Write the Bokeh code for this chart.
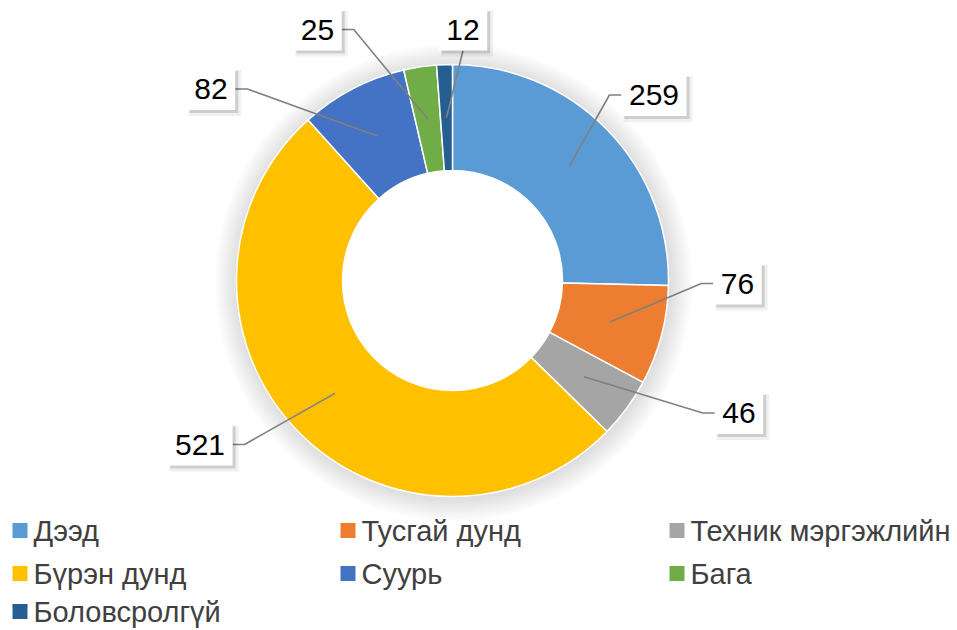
import numpy as np
from bokeh.plotting import figure
from bokeh.models import Range1d, ColumnDataSource
from bokeh.embed import file_html
from bokeh.resources import INLINE
from bokeh.core.properties import value

# ---------------- data ----------------
categories = ["Дээд", "Тусгай дунд", "Техник мэргэжлийн", "Бүрэн дунд",
              "Суурь", "Бага", "Боловсролгүй"]
counts = [259, 76, 46, 521, 82, 25, 12]
colors = ["#5B9BD5", "#ED7D31", "#A5A5A5", "#FFC000", "#4472C4", "#70AD47", "#255E91"]

# ---------------- layout (page pixels) ----------------
W, H = 957, 630
CX, CY = 452, 280          # donut centre on the page
R_OUT, R_IN = 216, 110
R_ANCHOR = (R_OUT + R_IN) / 2
# label box centres relative to the donut centre (x right, y up)
label_offsets = [(201.5, 185.5), (285, -3), (286.5, -132.5), (-252.5, -164),
                 (-241.5, 191.5), (-135, 251), (10.5, 251)]
label_attach = ["left", "left", "left", "right", "right", "right", "bottom"]
BOX_H = 42
FONT = "Liberation Sans"
FS = "30px"
LEG_FS = "29px"

legend_cols_px = [12, 340, 669]
legend_rows_py = [530, 573, 611]

p = figure(width=W, height=H, output_backend="svg", toolbar_location=None,
           x_range=Range1d(-CX, W - CX), y_range=Range1d(CY - H, CY),
           min_border=0, outline_line_color=None)
p.axis.visible = False
p.grid.visible = False
p.background_fill_color = "white"
p.border_fill_color = "white"

# soft shadow around the donut
for i in range(16):
    p.annulus(x=1, y=-2, inner_radius=R_OUT - 2, outer_radius=R_OUT + 2 + i * 1.4,
              fill_color="black", fill_alpha=0.007, line_color=None)

vals = np.array(counts, dtype=float)
frac = vals / vals.sum()
cum = np.concatenate([[0], np.cumsum(frac)])
start = np.pi / 2 - 2 * np.pi * cum[1:]
end = np.pi / 2 - 2 * np.pi * cum[:-1]
mid = np.pi / 2 - 2 * np.pi * (cum[:-1] + cum[1:]) / 2

src = ColumnDataSource(dict(start=start, end=end, color=colors, cat=categories))
p.annular_wedge(x=0, y=0, inner_radius=R_IN, outer_radius=R_OUT,
                start_angle="start", end_angle="end", fill_color="color",
                line_color="white", line_width=1.5, source=src)

# data labels with leaders
txt = [str(c) for c in counts]
bx = [o[0] for o in label_offsets]
by = [o[1] for o in label_offsets]
bw = [16.7 * len(t) + 15 for t in txt]
xs, ys = [], []
for i in range(len(counts)):
    ax, ay = R_ANCHOR * np.cos(mid[i]), R_ANCHOR * np.sin(mid[i])
    side = label_attach[i]
    if side == "left":
        px_, py_ = bx[i] - bw[i] / 2, by[i]
        xs.append([ax, px_ - 12, px_]); ys.append([ay, py_, py_])
    elif side == "right":
        px_, py_ = bx[i] + bw[i] / 2, by[i]
        xs.append([ax, px_ + 12, px_]); ys.append([ay, py_, py_])
    else:
        px_, py_ = bx[i], by[i] - BOX_H / 2
        xs.append([ax, px_]); ys.append([ay, py_])
p.multi_line(xs=xs, ys=ys, line_color="#808080", line_width=1.6)

lsrc = ColumnDataSource(dict(x=bx, y=by, w=bw, t=txt,
                             xs1=[v + 4 for v in bx], ys1=[v - 4 for v in by],
                             xs2=[v + 3 for v in bx], ys2=[v - 3 for v in by],
                             w2=[v + 4 for v in bw]))
p.rect(x="xs1", y="ys1", width="w2", height=BOX_H + 4, fill_color="black",
       fill_alpha=0.06, line_color=None, source=lsrc)
p.rect(x="xs2", y="ys2", width="w", height=BOX_H, fill_color="black",
       fill_alpha=0.14, line_color=None, source=lsrc)
p.rect(x="x", y="y", width="w", height=BOX_H, fill_color="white",
       line_color=None, source=lsrc)
p.text(x="x", y="y", text="t", text_align="center", text_baseline="middle",
       text_font=value(FONT), text_font_size=FS, text_color="black", source=lsrc)

# legend
lg_x, lg_y = [], []
for i in range(len(categories)):
    lg_x.append(legend_cols_px[i % 3] - CX)
    lg_y.append(CY - legend_rows_py[i // 3])
legsrc = ColumnDataSource(dict(sx=[v + 7.5 for v in lg_x], y=lg_y,
                               tx=[v + 21 for v in lg_x], cat=categories, color=colors))
p.rect(x="sx", y="y", width=15, height=15, fill_color="color", line_color=None, source=legsrc)
p.text(x="tx", y="y", text="cat", text_align="left", text_baseline="middle",
       text_font=value(FONT), text_font_size=LEG_FS, text_color="#404040", source=legsrc)

open("out.html", "w").write(file_html(p, INLINE))
